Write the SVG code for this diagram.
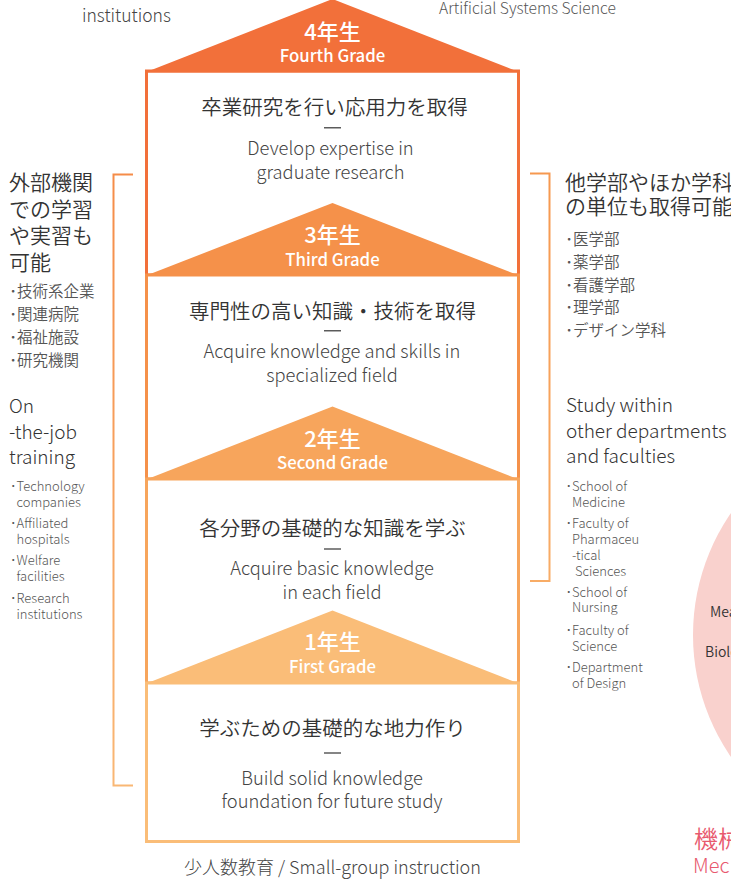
<svg xmlns="http://www.w3.org/2000/svg" width="731" height="881" viewBox="0 0 731 881">
<defs>
<style>
text{font-family:"Noto Sans CJK JP","Noto Sans",sans-serif}
.jp{font-size:20.5px;fill:#333;font-weight:350;text-anchor:middle}
.en{font-size:18.3px;fill:#444;font-weight:300;text-anchor:middle}
.gj{font-size:22px;fill:#fff;font-weight:500;text-anchor:middle}
.ge{font-size:16.8px;fill:#fff;font-weight:500;text-anchor:middle}
.dash{stroke:#333;stroke-width:1.2}
.hj{font-size:21px;fill:#333;font-weight:350}
.he{font-size:19px;fill:#333;font-weight:300}
.bj{font-size:15.5px;fill:#555;font-weight:350}
.be{font-size:13px;fill:#555;font-weight:300}
.box{fill:#fff;stroke-width:3}
.brk{fill:none;stroke-width:2}
</style>
<linearGradient id="gl" gradientUnits="userSpaceOnUse" x1="0" y1="174" x2="0" y2="786">
<stop offset="0" stop-color="#F58C48"/><stop offset="1" stop-color="#F9B774"/>
</linearGradient>
<linearGradient id="gr" gradientUnits="userSpaceOnUse" x1="0" y1="173" x2="0" y2="582">
<stop offset="0" stop-color="#F6984F"/><stop offset="1" stop-color="#F8AC66"/>
</linearGradient>
</defs>
<rect width="731" height="881" fill="#fff"/>

<g id="top-notes">
<text x="82" y="22" style="font-size:17.5px;fill:#444;font-weight:300">institutions</text>
<text x="439" y="14" style="font-size:15.6px;fill:#555;font-weight:300">Artificial Systems Science</text>
</g>

<g id="circle-area">
<circle cx="908" cy="635" r="215" fill="#F9D1CD"/>
<text x="710" y="617" style="font-size:14px;fill:#333;font-weight:350">Mea</text>
<text x="705" y="657" style="font-size:14px;fill:#333;font-weight:350">Biolo</text>
<text x="694" y="848" style="font-size:24px;fill:#E8596E;font-weight:350">機械</text>
<text x="693" y="873" style="font-size:20px;fill:#E8596E;font-weight:300">Mec</text>
</g>

<g id="grade4">
<rect class="box" x="146.5" y="71" width="372" height="204" stroke="#F2703A"/>
<polygon points="145,72.5 520,72.5 332.5,-1" fill="#F2703A"/>
<text class="gj" x="332.5" y="39.5">4年生</text>
<text class="ge" x="332.5" y="61.5">Fourth Grade</text>
<text class="jp" x="334.5" y="115">卒業研究を行い応用力を取得</text>
<line class="dash" x1="324" y1="127.8" x2="341" y2="127.8"/>
<text class="en" x="330.5" y="155">Develop expertise in</text>
<text class="en" x="330.5" y="178.5">graduate research</text>
</g>

<g id="grade3">
<rect class="box" x="146.5" y="275" width="372" height="204" stroke="#F5914A"/>
<polygon points="145,276 520,276 332.5,203" fill="#F5914A"/>
<text class="gj" x="332.5" y="243">3年生</text>
<text class="ge" x="332.5" y="265.5">Third Grade</text>
<text class="jp" x="332.5" y="318.5">専門性の高い知識・技術を取得</text>
<line class="dash" x1="324" y1="330.8" x2="341" y2="330.8"/>
<text class="en" x="332" y="358.3">Acquire knowledge and skills in</text>
<text class="en" x="332" y="381.7">specialized field</text>
</g>

<g id="grade2">
<rect class="box" x="146.5" y="479" width="372" height="204" stroke="#F7A55C"/>
<polygon points="145,480 520,480 332.5,406.5" fill="#F7A55C"/>
<text class="gj" x="332.5" y="446.7">2年生</text>
<text class="ge" x="332.5" y="469.3">Second Grade</text>
<text class="jp" x="332.5" y="535.5">各分野の基礎的な知識を学ぶ</text>
<line class="dash" x1="324" y1="549" x2="341" y2="549"/>
<text class="en" x="332" y="575">Acquire basic knowledge</text>
<text class="en" x="332" y="598.5">in each field</text>
</g>

<g id="grade1">
<rect class="box" x="146.5" y="683" width="372" height="158.5" stroke="#FABD78"/>
<polygon points="145,684 520,684 332.5,610.5" fill="#FABD78"/>
<text class="gj" x="332.5" y="650.3">1年生</text>
<text class="ge" x="332.5" y="673.3">First Grade</text>
<text class="jp" x="332.5" y="736">学ぶための基礎的な地力作り</text>
<line class="dash" x1="324" y1="753" x2="341" y2="753"/>
<text class="en" x="332" y="785">Build solid knowledge</text>
<text class="en" x="332" y="808">foundation for future study</text>
</g>

<g id="caption">
<text x="332.5" y="874" style="font-size:18px;fill:#444;font-weight:300;text-anchor:middle">少人数教育 / Small-group instruction</text>
</g>

<g id="left-notes">
<text class="hj" x="9" y="190">外部機関</text>
<text class="hj" x="9" y="216.5">での学習</text>
<text class="hj" x="9" y="243">や実習も</text>
<text class="hj" x="9" y="269.5">可能</text>
<text class="bj" x="9.3" y="297">･技術系企業</text>
<text class="bj" x="9.3" y="320">･関連病院</text>
<text class="bj" x="9.3" y="343">･福祉施設</text>
<text class="bj" x="9.3" y="366">･研究機関</text>
<text class="he" x="9" y="413">On</text>
<text class="he" x="9" y="439">-the-job</text>
<text class="he" x="9" y="464">training</text>
<text class="be" x="10" y="491">･Technology</text>
<text class="be" x="16.5" y="507">companies</text>
<text class="be" x="10" y="528">･Affiliated</text>
<text class="be" x="16.5" y="543.5">hospitals</text>
<text class="be" x="10" y="565">･Welfare</text>
<text class="be" x="16.5" y="580.5">facilities</text>
<text class="be" x="10" y="603">･Research</text>
<text class="be" x="16.5" y="618.5">institutions</text>
</g>

<g id="right-notes">
<text class="hj" x="565" y="189.5">他学部やほか学科</text>
<text class="hj" x="565" y="213.5">の単位も取得可能</text>
<text class="bj" x="565.3" y="245">･医学部</text>
<text class="bj" x="565.3" y="268">･薬学部</text>
<text class="bj" x="565.3" y="290.5">･看護学部</text>
<text class="bj" x="565.3" y="313">･理学部</text>
<text class="bj" x="565.3" y="336">･デザイン学科</text>
<text class="he" x="566" y="412">Study within</text>
<text class="he" x="566" y="437.5">other departments</text>
<text class="he" x="566" y="463">and faculties</text>
<text class="be" x="565.5" y="491">･School of</text>
<text class="be" x="572" y="507">Medicine</text>
<text class="be" x="565.5" y="527.5">･Faculty of</text>
<text class="be" x="572" y="543.5">Pharmaceu</text>
<text class="be" x="572" y="560">-tical</text>
<text class="be" x="575" y="576">Sciences</text>
<text class="be" x="565.5" y="596.5">･School of</text>
<text class="be" x="572" y="612">Nursing</text>
<text class="be" x="565.5" y="634.5">･Faculty of</text>
<text class="be" x="572" y="650.5">Science</text>
<text class="be" x="565.5" y="671.5">･Department</text>
<text class="be" x="572" y="687.5">of Design</text>
</g>

<g id="connectors">
<path class="brk" d="M133,174.5 H113.5 V785.5 H133" stroke="url(#gl)"/>
<path class="brk" d="M530,173.5 H549.5 V581 H530" stroke="url(#gr)"/>
</g>
</svg>
